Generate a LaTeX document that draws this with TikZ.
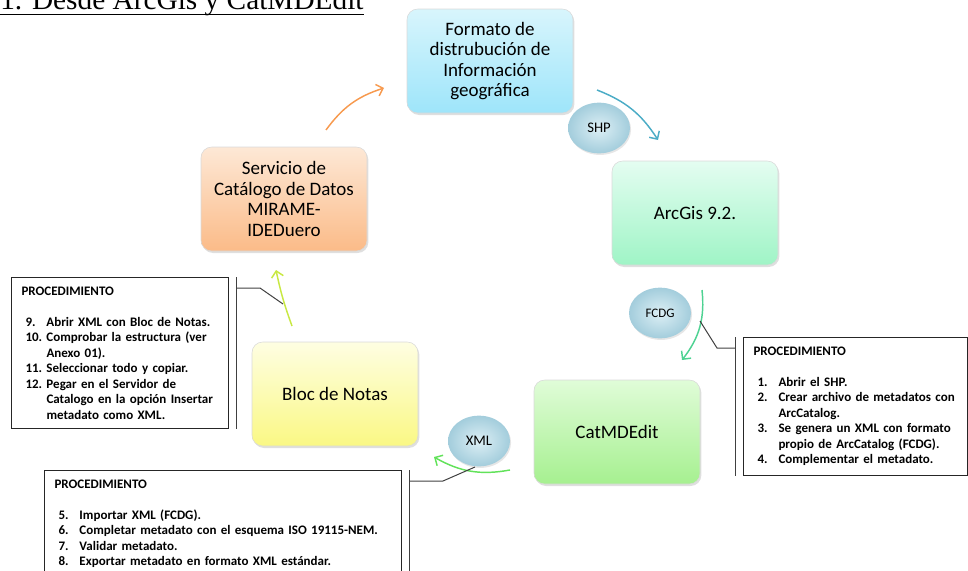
\documentclass[tikz,border=0pt]{standalone}
\usepackage{fontspec}
\setmainfont{Carlito}
\newfontfamily\titlefont{Liberation Serif}
\usetikzlibrary{positioning,calc,shadows,shapes.geometric,arrows.meta}

% colours of the boxes and arrows
\definecolor{fmtTop}{HTML}{D8F5FC}
\definecolor{fmtBot}{HTML}{9EE5FA}
\definecolor{arcTop}{HTML}{E4FDF1}
\definecolor{arcBot}{HTML}{9FF4C6}
\definecolor{catTop}{HTML}{E0FCD8}
\definecolor{catBot}{HTML}{A6F090}
\definecolor{blocTop}{HTML}{FEFEE2}
\definecolor{blocBot}{HTML}{FAF884}
\definecolor{servTop}{HTML}{FDE8D6}
\definecolor{servBot}{HTML}{FBBB88}
\definecolor{bubIn}{HTML}{DDEFF5}
\definecolor{bubOut}{HTML}{A3CDDC}
\definecolor{arrOrange}{HTML}{F79A4F}
\definecolor{arrBlue}{HTML}{4BACC6}
\definecolor{arrTeal}{HTML}{4ED292}
\definecolor{arrGreen}{HTML}{62E25A}
\definecolor{arrLime}{HTML}{C8E843}

\newcommand{\pnum}[1]{\hspace*{3pt}\makebox[15.75pt][l]{#1}}

\begin{document}
\begin{tikzpicture}[
  x=0.75pt, y=-0.75pt,
  box/.style={rectangle, rounded corners=8pt, draw=black!15,
    minimum width=124.5pt, minimum height=78pt, align=center,
    font=\fontsize{14.25}{15.4}\selectfont,
    drop shadow={shadow xshift=1pt, shadow yshift=-1.5pt, opacity=0.25}},
  bubble/.style={ellipse, draw=none, inner color=bubIn, outer color=bubOut,
    minimum width=46.5pt, minimum height=38pt, inner sep=0pt,
    font=\fontsize{11}{12}\selectfont,
    drop shadow={shadow xshift=0.8pt, shadow yshift=-1.2pt, opacity=0.2}},
  proc/.style={rectangle, draw=black!85, line width=0.75pt, fill=white,
    anchor=north west, align=left, inner xsep=7.5pt, inner ysep=7pt,
    font=\bfseries\fontsize{9.75}{11.6}\selectfont},
  callout/.style={draw=black!75, line width=0.75pt},
  cyc/.style={line width=1.1pt, -{Straight Barb[length=4.5pt,width=9pt]}}
  ]

\useasboundingbox (0,0) rectangle (968,571);
\clip (0,0) rectangle (968,571);

% Title
\node[anchor=base west, inner sep=0pt, font=\titlefont\fontsize{22}{26}\selectfont]
  (title) at (0,10) {1. Desde ArcGis y CatMDEdit};
\draw[line width=1.3pt] ($(title.base west)+(0,4.5)$) -- ($(title.base east)+(0,4.5)$);

% Boxes of the cycle
\node[box, top color=fmtTop, bottom color=fmtBot] (fmt) at (490,61)
  {Formato de\\distrubución de\\Información\\geográfica};
\node[box, top color=arcTop, bottom color=arcBot] (arc) at (695,213) {ArcGis 9.2.};
\node[box, top color=catTop, bottom color=catBot] (cat) at (617,432) {CatMDEdit};
\node[box, top color=blocTop, bottom color=blocBot] (bloc) at (335,394) {Bloc de Notas};
\node[box, top color=servTop, bottom color=servBot] (serv) at (284,199)
  {Servicio de\\Catálogo de Datos\\MIRAME-\\IDEDuero};

% Formats
\node[bubble] (shp) at (599,128) {SHP};
\node[bubble, font=\fontsize{9.75}{11}\selectfont] (fcdg) at (660,313) {FCDG};
\node[bubble] (xml) at (479,441) {XML};

% Arrows
\coordinate (o1) at (326,130); \coordinate (o2) at (384,88);
\coordinate (b1) at (597,90);  \coordinate (b2) at (658,140);
\coordinate (t1) at (702,290); \coordinate (t2) at (682,360);
\coordinate (g1) at (510,470); \coordinate (g2) at (434,457);
\coordinate (l1) at (292,326); \coordinate (l2) at (276,270);
\draw[cyc, arrOrange] (o1) to[bend left=18] (o2);
\draw[cyc, arrBlue] (b1) to[bend left=18] (b2);
\draw[cyc, arrTeal] (t1) to[bend left=22] (t2);
\draw[cyc, arrGreen] (g1) to[bend left=20] (g2);
\draw[cyc, arrLime] (l1) to[bend left=4] (l2);

% Procedures
\node[proc, text width=147.75pt] (pleft) at (11,277)
  {PROCEDIMIENTO\\[11.6pt]
   \pnum{9.}Abrir XML con Bloc de Notas.\\
   \pnum{10.}Comprobar la estructura (ver\\
   \pnum{}Anexo 01).\\
   \pnum{11.}Seleccionar todo y copiar.\\
   \pnum{12.}Pegar en el Servidor de\\
   \pnum{}Catalogo en la opción Insertar\\
   \pnum{}metadato como XML.};
\node[proc, text width=153pt] (pright) at (743,337)
  {PROCEDIMIENTO\\[11.6pt]
   \pnum{1.}Abrir el SHP.\\
   \pnum{2.}Crear archivo de metadatos con\\
   \pnum{}ArcCatalog.\\
   \pnum{3.}Se genera un XML con formato\\
   \pnum{}propio de ArcCatalog (FCDG).\\
   \pnum{4.}Complementar el metadato.};
\node[proc, text width=252.75pt] (pbot) at (44,470)
  {PROCEDIMIENTO\\[11.6pt]
   \pnum{5.}Importar XML (FCDG).\\
   \pnum{6.}Completar metadato con el esquema ISO 19115-NEM.\\
   \pnum{7.}Validar metadato.\\
   \pnum{8.}Exportar metadato en formato XML estándar.\\[2pt]};

% Callouts
\coordinate (cl) at (283,304);
\coordinate (cr) at (700,321);
\coordinate (cb) at (475,467);
\draw[callout] ($(pleft.north east)+(7,0)$) -- ($(pleft.south east)+(7,0)$);
\draw[callout] ($(pleft.north east)+(7,11)$) -- ++(24,0) -- (cl);
\draw[callout] ($(pright.north west)+(-8,0)$) -- ($(pright.south west)+(-8,0)$);
\draw[callout] ($(pright.north west)+(-8,11)$) -- ++(-18,0) -- (cr);
\draw[callout] ($(pbot.north east)+(7,0)$) -- ($(pbot.south east)+(7,20)$);
\draw[callout] ($(pbot.north east)+(7,11)$) -- ++(34,0) -- (cb);

\end{tikzpicture}
\end{document}
